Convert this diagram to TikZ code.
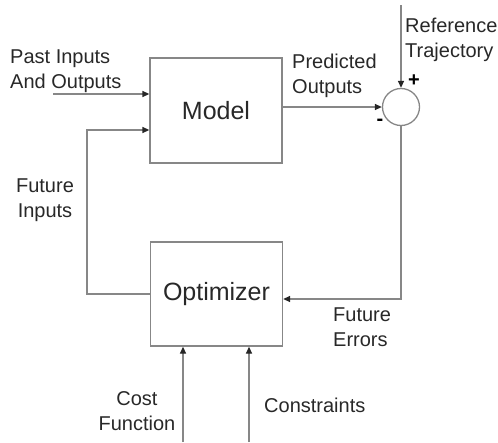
\documentclass[tikz,border=0pt]{standalone}
\usepackage{fontspec}
\setmainfont{Liberation Sans}
\usetikzlibrary{arrows.meta,calc}
\definecolor{linegray}{RGB}{135,135,135}
\definecolor{txt}{RGB}{40,40,40}
\begin{document}
\begin{tikzpicture}[x=1pt,y=-1pt,
  conn/.style={draw=linegray, line width=1.3pt},
  arr/.style={conn, -{Triangle[length=7pt,width=6pt,color=black!85]}},
  block/.style={draw=linegray, line width=1.3pt, minimum width=132pt, minimum height=105pt, font=\fontsize{25}{30}\selectfont, text=txt, inner sep=0pt},
  lbl/.style={font=\fontsize{20}{25}\selectfont, text=txt, inner sep=0pt},
  sign/.style={font=\fontsize{20}{24}\selectfont\bfseries, text=black, inner sep=0pt}]
\useasboundingbox (0,0) rectangle (498,442);

% blocks
\node[block] (model) at (216,110.5) {Model};
\node[block, minimum height=104pt] (opt) at (216.5,294) {Optimizer};
\node[draw=linegray, line width=1.3pt, circle, minimum size=37pt, inner sep=0pt] (sum) at (401,107) {};

% coordinates
\coordinate (pastin) at (53,94);
\coordinate (futin) at (87,130);
\coordinate (reftop) at (401,5);
\coordinate (errY) at (401,299);
\coordinate (costbot) at (183,442);
\coordinate (consbot) at (249,442);

% connectors
\draw[arr] (pastin) -- (pastin -| model.west);
\draw[arr] (opt.west) -| (futin) -- (futin -| model.west);
\draw[arr] (model.east |- sum.west) -- (sum.west);
\draw[arr] (reftop) -- (sum.north);
\draw[arr] (sum.south) -- (errY) -- (errY -| opt.east);
\draw[arr] (costbot) -- (costbot |- opt.south);
\draw[arr] (consbot) -- (consbot |- opt.south);

% labels
\node[lbl, anchor=west, align=left] (lpast) at (10,71) {Past Inputs\\And Outputs};
\node[lbl, anchor=west, align=left] (lpred) at (292,76) {Predicted\\Outputs};
\node[lbl, anchor=west, align=left] (lref) at (405,40) {Reference\\Trajectory};
\node[lbl, align=center] (lfutin) at (45,200) {Future\\Inputs};
\node[lbl, anchor=west, align=left] (lerr) at (333,327) {Future\\Errors};
\node[lbl, align=center] (lcost) at (137,411) {Cost\\Function};
\node[lbl, anchor=west] (lcons) at (264,405) {Constraints};
\node[sign] (plus) at (414,81) {+};
\node[sign] (minus) at (380,122) {-};
\end{tikzpicture}
\end{document}
